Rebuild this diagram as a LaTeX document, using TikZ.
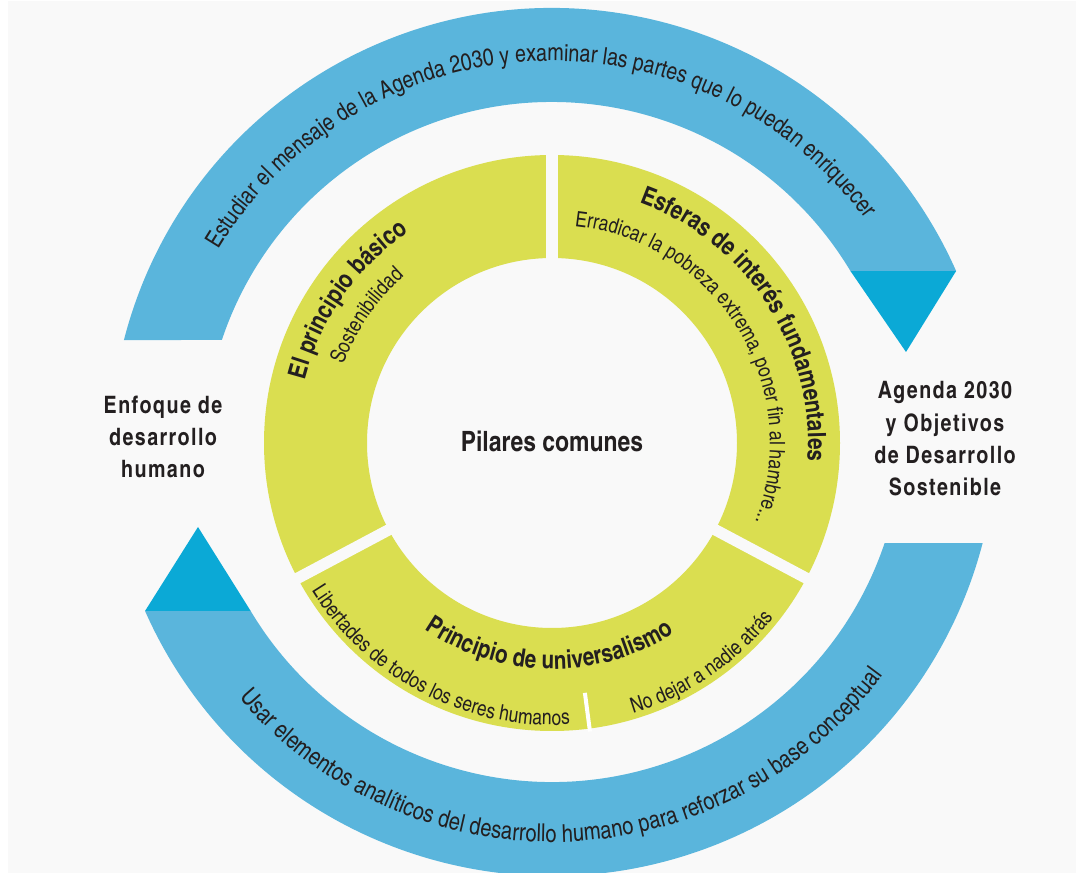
\documentclass[tikz,border=0pt]{standalone}
\usepackage{fontspec}
\setmainfont{texgyreheroscn}[Extension=.otf, UprightFont=*-regular, BoldFont=*-bold, ItalicFont=*-italic, BoldItalicFont=*-bolditalic]
\usetikzlibrary{decorations.text}

\definecolor{fondo}{HTML}{F9F9F9}
\definecolor{banda}{HTML}{5AB5DC}
\definecolor{punta}{HTML}{0BA9D6}
\definecolor{anillo}{HTML}{DADE50}
\definecolor{tinta}{HTML}{231F20}

\tikzset{every picture/.style={line width=0.75pt}}
\tikzset{
  curvo/.style={decorate, decoration={text along path, text align=center, text color=tinta, text={#1}}},
  lado/.style={font=\bfseries\fontsize{18}{24.3}\selectfont\addfontfeatures{LetterSpace=6}, text=tinta, align=center, inner sep=0.75pt},
  corte/.style={draw=fondo, line width=8.5pt},
}

\begin{document}
\begin{tikzpicture}[x=0.75pt,y=0.75pt]
\useasboundingbox (0,0) rectangle (1076,-873);
% fondo
\fill[white] (0,0) rectangle (1076,-873);
\fill[fondo] (8,-1) rectangle (1076,-873);

\coordinate (C) at (552,-443); % centro del anillo
\coordinate (A) at (552,-450); % centro arco superior
\coordinate (B) at (552,-431); % centro arco inferior

%Shape: arco superior
\fill[banda] ([shift={(165.59:442)}]A) arc[start angle=165.59, end angle=23.89, radius=442] coordinate (dExt)
  -- ([shift={(30.95:348)}]A) coordinate (dInt) arc[start angle=30.95, end angle=161.57, radius=348] -- cycle;
\coordinate (dPunta) at (906,-352);
\fill[punta] (dInt) -- (dExt) -- (dPunta) -- cycle;

%Shape: arco inferior
\fill[banda] ([shift={(203.86:445)}]B) coordinate (iExt) arc[start angle=203.86, end angle=345.42, radius=445]
  -- ([shift={(341.39:351)}]B) arc[start angle=341.39, end angle=210.85, radius=351] coordinate (iInt) -- cycle;
\coordinate (iPunta) at (198,-527);
\fill[punta] (iExt) -- (iInt) -- (iPunta) -- cycle;

%Shape: anillo
\fill[anillo, even odd rule] (C) circle[radius=288] (C) circle[radius=185];
\foreach \a in {90,-28,208}
  \draw[corte] ([shift={(\a:175)}]C) -- ([shift={(\a:300)}]C);
\draw[white, line width=3pt] ([shift={(277.5:252)}]C) -- ([shift={(277.5:291)}]C); % division inferior

% textos de las bandas
\path[curvo={|\fontsize{18}{20}\selectfont|Estudiar el mensaje de la Agenda 2030 y examinar las partes que lo puedan enriquecer}]
  ([shift={(170:389)}]A) arc[start angle=170, end angle=15.5, radius=389];
\path[curvo={|\fontsize{18.5}{20}\selectfont|Usar elementos analíticos del desarrollo humano para reforzar su base conceptual}]
  ([shift={(200:411)}]B) arc[start angle=200, end angle=344, radius=411];

% textos del anillo
\path[curvo={|\bfseries\fontsize{19}{21}\selectfont|El principio básico}]
  ([shift={(190:255)}]C) arc[start angle=190, end angle=100, radius=255];
\path[curvo={|\fontsize{16}{18}\selectfont|Sostenibilidad}]
  ([shift={(190.5:223)}]C) arc[start angle=190.5, end angle=100.5, radius=223];
\path[curvo={|\bfseries\fontsize{19}{21}\selectfont|Esferas de interés fundamentales}]
  ([shift={(83:256)}]C) arc[start angle=83, end angle=-17, radius=256];
\path[curvo={|\fontsize{16}{18}\selectfont|Erradicar la pobreza extrema, poner fin al hambre...}]
  ([shift={(101.4:218)}]C) arc[start angle=101.4, end angle=-38.6, radius=218];
\path[curvo={|\bfseries\fontsize{19}{21}\selectfont|Principio de universalismo}]
  ([shift={(209:226)}]C) arc[start angle=209, end angle=329.4, radius=226];
\path[curvo={|\fontsize{16}{18}\selectfont|Libertades de todos los seres humanos}]
  ([shift={(197.6:282)}]C) arc[start angle=197.6, end angle=287.6, radius=282];
\path[curvo={|\fontsize{16}{18}\selectfont|No dejar a nadie atrás}]
  ([shift={(264.2:282)}]C) arc[start angle=264.2, end angle=344.2, radius=282];

% Text Node
\node[font=\bfseries\fontsize{21}{24}\selectfont, text=tinta] (pilares) at (552,-441) {Pilares comunes};
% Text Node
\node[lado] (agenda) at (945,-439) {Agenda 2030\\y Objetivos\\de Desarrollo\\Sostenible};
% Text Node
\node[lado] (enfoque) at (163,-437) {Enfoque de\\desarrollo\\humano};

\end{tikzpicture}
\end{document}
